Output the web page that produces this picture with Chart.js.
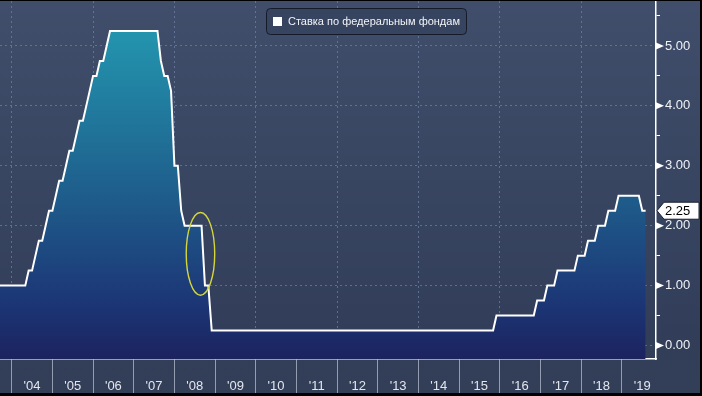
<!DOCTYPE html>
<html>
<head>
<meta charset="utf-8">
<script src="https://cdn.jsdelivr.net/npm/chart.js@4.4.1/dist/chart.umd.min.js"></script>
<style>
    html, body { margin: 0; padding: 0; background: #000; }
    #wrap {
        position: absolute; left: 0; top: 1px; width: 700px; height: 392px;
        background: linear-gradient(#404e6b, #323e59 85%, #333e57);
    }
</style>
</head>
<body>
<div id="wrap"><canvas id="chart"></canvas></div>
<script>
const seriesName = 'Ставка по федеральным фондам';
const firstMonth = [2003, 9]; // year, month of the first value
// monthly fed funds target (upper bound), end of month
const fedRate = [
    1, 1, 1, 1,                                                   // 2003 Sep-Dec
    1, 1, 1, 1, 1, 1.25, 1.25, 1.5, 1.75, 1.75, 2, 2.25,          // 2004
    2.25, 2.5, 2.75, 2.75, 3, 3.25, 3.25, 3.5, 3.75, 3.75, 4, 4.25, // 2005
    4.5, 4.5, 4.75, 4.75, 5, 5.25, 5.25, 5.25, 5.25, 5.25, 5.25, 5.25, // 2006
    5.25, 5.25, 5.25, 5.25, 5.25, 5.25, 5.25, 5.25, 4.75, 4.5, 4.5, 4.25, // 2007
    3, 3, 2.25, 2, 2, 2, 2, 2, 2, 1, 1, 0.25,                     // 2008
    0.25, 0.25, 0.25, 0.25, 0.25, 0.25, 0.25, 0.25, 0.25, 0.25, 0.25, 0.25, // 2009
    0.25, 0.25, 0.25, 0.25, 0.25, 0.25, 0.25, 0.25, 0.25, 0.25, 0.25, 0.25, // 2010
    0.25, 0.25, 0.25, 0.25, 0.25, 0.25, 0.25, 0.25, 0.25, 0.25, 0.25, 0.25, // 2011
    0.25, 0.25, 0.25, 0.25, 0.25, 0.25, 0.25, 0.25, 0.25, 0.25, 0.25, 0.25, // 2012
    0.25, 0.25, 0.25, 0.25, 0.25, 0.25, 0.25, 0.25, 0.25, 0.25, 0.25, 0.25, // 2013
    0.25, 0.25, 0.25, 0.25, 0.25, 0.25, 0.25, 0.25, 0.25, 0.25, 0.25, 0.25, // 2014
    0.25, 0.25, 0.25, 0.25, 0.25, 0.25, 0.25, 0.25, 0.25, 0.25, 0.25, 0.5,  // 2015
    0.5, 0.5, 0.5, 0.5, 0.5, 0.5, 0.5, 0.5, 0.5, 0.5, 0.5, 0.75,          // 2016
    0.75, 0.75, 1, 1, 1, 1.25, 1.25, 1.25, 1.25, 1.25, 1.25, 1.5,         // 2017
    1.5, 1.5, 1.75, 1.75, 1.75, 2, 2, 2, 2.25, 2.25, 2.25, 2.5,           // 2018
    2.5, 2.5, 2.5, 2.5, 2.5, 2.5, 2.25, 2.25                              // 2019 Jan-Aug
];
const yearTicks = [2004, 2005, 2006, 2007, 2008, 2009, 2010, 2011, 2012, 2013, 2014, 2015, 2016, 2017, 2018, 2019];
const yearLabels = ["'04", "'05", "'06", "'07", "'08", "'09", "'10", "'11", "'12", "'13", "'14", "'15", "'16", "'17", "'18", "'19"];
const rateTicks = [0, 0.5, 1, 1.5, 2, 2.5, 3, 3.5, 4, 4.5, 5, 5.5];

// yellow circle around the autumn 2008 cuts
const markCenter = [2008.64, 1.53];
const markRadius = [0.35, 0.69];

const points = fedRate.map((v, i) => ({ x: firstMonth[0] + (firstMonth[1] - 1 + i) / 12, y: v }));
const lastRate = fedRate[fedRate.length - 1];
const gridColor = 'rgba(122,142,178,0.6)';
const clear = 'rgba(0,0,0,0)';

function fillGradient(context) {
    const { chart } = context;
    const area = chart.chartArea;
    if (!area) return 'rgba(30,90,140,1)';
    const g = chart.ctx.createLinearGradient(0, area.top, 0, area.bottom);
    g.addColorStop(0, '#2498b0');
    g.addColorStop(0.1, '#2393ad');
    g.addColorStop(0.55, '#1e5c8b');
    g.addColorStop(0.85, '#1c3575');
    g.addColorStop(1, '#1c235f');
    return g;
}

const extras = {
    id: 'extras',
    afterDraw(chart) {
        const { ctx, chartArea } = chart;
        const xs = chart.scales.x, ys = chart.scales.y;
        ctx.save();

        // triangles on the right axis at whole values
        ctx.fillStyle = '#ffffff';
        rateTicks.filter(v => Number.isInteger(v)).forEach(v => {
            const py = ys.getPixelForValue(v);
            ctx.beginPath();
            ctx.moveTo(chartArea.right, py - 3.5);
            ctx.lineTo(chartArea.right + 8, py);
            ctx.lineTo(chartArea.right, py + 3.5);
            ctx.closePath();
            ctx.fill();
        });

        // last value tag
        const ly = ys.getPixelForValue(lastRate);
        const lx = chartArea.right + 1;
        ctx.beginPath();
        ctx.moveTo(lx, ly);
        ctx.lineTo(lx + 7, ly - 8.5);
        ctx.lineTo(lx + 42, ly - 8.5);
        ctx.lineTo(lx + 42, ly + 8.5);
        ctx.lineTo(lx + 7, ly + 8.5);
        ctx.closePath();
        ctx.fillStyle = '#ffffff';
        ctx.fill();
        ctx.strokeStyle = '#1b2030';
        ctx.lineWidth = 1;
        ctx.stroke();
        ctx.fillStyle = '#000000';
        ctx.font = '13px "Liberation Sans", Arial, sans-serif';
        ctx.textBaseline = 'middle';
        ctx.textAlign = 'left';
        ctx.fillText(lastRate.toFixed(2), lx + 8, ly + 1);

        // yellow ellipse
        const cx = xs.getPixelForValue(markCenter[0]);
        const cy = ys.getPixelForValue(markCenter[1]);
        const rx = Math.abs(xs.getPixelForValue(markCenter[0] + markRadius[0]) - cx);
        const ry = Math.abs(ys.getPixelForValue(markCenter[1] + markRadius[1]) - cy);
        ctx.beginPath();
        ctx.ellipse(cx, cy, rx, ry, 0, 0, Math.PI * 2);
        ctx.strokeStyle = '#d4d63c';
        ctx.lineWidth = 1.4;
        ctx.stroke();

        // legend
        ctx.font = '11px "Liberation Sans", Arial, sans-serif';
        const tw = ctx.measureText(seriesName).width;
        const bw = Math.round(tw + 28), bh = 26;
        const bx = Math.round(366 - bw / 2) + 0.5, by = 7.5;
        ctx.beginPath();
        ctx.roundRect(bx, by, bw, bh, 4);
        ctx.fillStyle = '#37445f';
        ctx.fill();
        ctx.strokeStyle = '#161b29';
        ctx.lineWidth = 1;
        ctx.stroke();
        ctx.fillStyle = '#ffffff';
        ctx.fillRect(bx + 6.5, by + 8.5, 9, 9);
        ctx.fillStyle = '#f2f4f8';
        ctx.textBaseline = 'middle';
        ctx.fillText(seriesName, bx + 21.5, by + bh / 2 + 0.5);

        ctx.restore();
    }
};

const chart = new Chart(document.getElementById('chart'), {
    type: 'line',
    data: {
        datasets: [{
            label: seriesName,
            data: points,
            borderColor: '#ffffff',
            borderWidth: 2,
            pointRadius: 0,
            tension: 0,
            fill: 'start',
            backgroundColor: fillGradient,
        }],
    },
    options: {
        responsive: true,
        maintainAspectRatio: false,
        animation: false,
        layout: { padding: 0 },
        plugins: {
            legend: { display: false },
            tooltip: { enabled: false },
        },
        scales: {
            x: {
                type: 'linear',
                min: 2003.712,
                max: 2019.838,
                z: 1,
                afterBuildTicks: (scale) => { scale.ticks = yearTicks.map(v => ({ value: v })); },
                afterFit: (scale) => { scale.height = 34; scale.paddingLeft = 0; scale.paddingRight = 0; },
                border: { display: true, color: '#ffffff', width: 1.5, dash: [2, 3] },
                grid: {
                    color: (c) => (c.index % 2 === 0) ? gridColor : clear,
                    lineWidth: 1,
                    tickColor: 'rgba(190,198,212,0.7)',
                    tickBorderDash: [],
                    tickLength: 34,
                    tickWidth: 1,
                },
                ticks: {
                    autoSkip: false,
                    maxRotation: 0,
                    labelOffset: 20.3,
                    padding: -14,
                    color: '#e2e6ee',
                    font: { family: '"Liberation Sans", Arial, sans-serif', size: 13 },
                    callback: (v) => yearLabels[yearTicks.indexOf(v)],
                },
            },
            y: {
                position: 'right',
                min: -0.225,
                max: 5.75,
                z: 1,
                afterBuildTicks: (scale) => { scale.ticks = rateTicks.map(v => ({ value: v })); },
                afterFit: (scale) => { scale.width = 44; scale.paddingTop = 0; scale.paddingBottom = 0; },
                border: { display: true, color: '#ffffff', width: 1.5, dash: [2, 3] },
                grid: {
                    color: (c) => (c.index % 2 === 0) ? gridColor : clear,
                    lineWidth: 1,
                    tickColor: (c) => (c.index % 2 === 0) ? clear : '#ffffff',
                    tickBorderDash: [],
                    tickLength: 4,
                    tickWidth: 1,
                },
                ticks: {
                    autoSkip: false,
                    padding: 5,
                    color: '#f0f2f6',
                    font: { family: '"Liberation Sans", Arial, sans-serif', size: 13 },
                    callback: (v) => Number.isInteger(v) ? v.toFixed(2) : '',
                },
            },
        },
    },
    plugins: [extras],
});
</script>
</body>
</html>
